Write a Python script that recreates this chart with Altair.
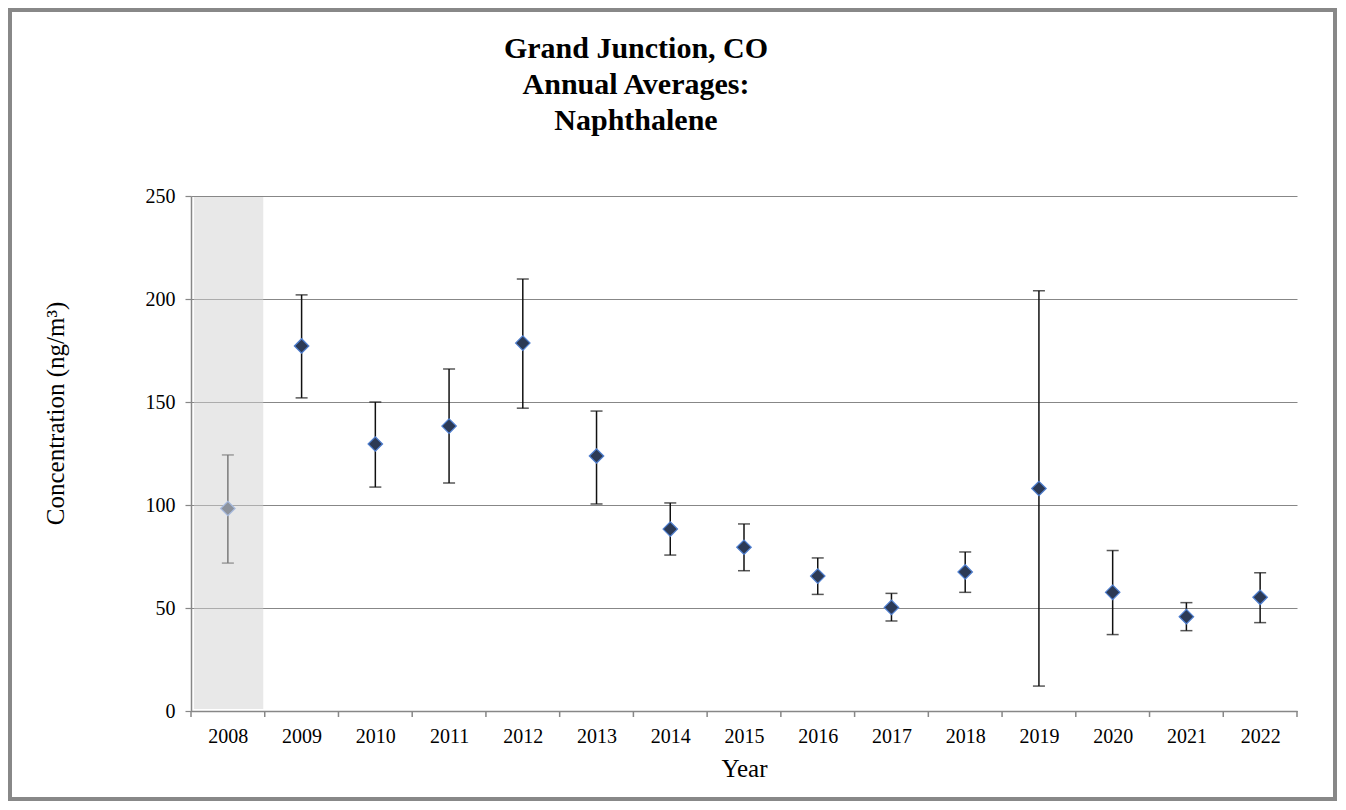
import altair as alt
import pandas as pd

# ---- data ----
years = [2008, 2009, 2010, 2011, 2012, 2013, 2014, 2015, 2016, 2017, 2018, 2019, 2020, 2021, 2022]
means = [98.3, 177.2, 129.6, 138.3, 178.6, 123.8, 88.3, 79.5, 65.5, 50.3, 67.5, 108.0, 57.6, 45.8, 55.2]
upper = [124.3, 202.0, 150.0, 166.0, 209.7, 145.6, 101.0, 90.8, 74.3, 57.1, 77.2, 204.0, 77.9, 52.6, 67.1]
lower = [71.8, 152.0, 108.7, 110.7, 147.0, 100.5, 75.7, 68.1, 56.6, 43.7, 57.6, 12.1, 37.1, 39.0, 42.9]
y_ticks = [0, 50, 100, 150, 200, 250]
shaded_years = [2008]
title_lines = ["Grand Junction, CO", "Annual Averages:", "Naphthalene"]
x_title = "Year"
y_title = "Concentration (ng/m³)"

df = pd.DataFrame({"year": years, "mean": means, "hi": upper, "lo": lower})
bounds = pd.DataFrame({"b": [y - 0.5 for y in years] + [years[-1] + 0.5]})
shade = pd.DataFrame({"year": shaded_years})

W, H = 1106, 515
FONT = "Liberation Serif"
GRAY = "#878787"

xscale = alt.Scale(domain=[years[0] - 0.5, years[-1] + 0.5], nice=False, zero=False)
yscale = alt.Scale(domain=[y_ticks[0], y_ticks[-1]], nice=False, zero=True)

xaxis = alt.Axis(values=years, format="d", ticks=False, tickSize=0, grid=False,
                 labelPadding=15, labelFont=FONT, labelFontSize=20, labelColor="#000",
                 domainColor=GRAY, domainWidth=1.5, title=x_title,
                 titleFont=FONT, titleFontSize=25, titleFontWeight="normal", titleColor="#000",
                 titleX=W / 2, titleY=57, titleBaseline="middle", titleAlign="center")
yaxis = alt.Axis(values=y_ticks, tickSize=6, tickColor=GRAY, tickWidth=1.2,
                 domainColor=GRAY, domainWidth=1.5, grid=True, gridColor=GRAY, gridWidth=1.2,
                 labelPadding=10, labelFont=FONT, labelFontSize=20, labelColor="#000",
                 title=y_title, titleFont=FONT, titleFontSize=25, titleFontWeight="normal",
                 titleColor="#000", titleAngle=270, titleX=-136, titleY=217,
                 titleAlign="center", titleBaseline="middle")

X = lambda f: alt.X(f, scale=xscale, axis=xaxis, title=x_title)
Y = lambda f: alt.Y(f, scale=yscale, axis=yaxis, title=y_title)

is08 = alt.datum.year == 2008

band = alt.Chart(shade).transform_calculate(
    x0="datum.year - 0.46", x1="datum.year + 0.48"
).mark_rect(color="#d1d1d1", opacity=0.5).encode(
    x=X("x0:Q"), x2="x1:Q", y=alt.value(1), y2=alt.value(H - 2)
)

xticks = alt.Chart(bounds).mark_rule(color=GRAY, strokeWidth=1.5).encode(
    x=X("b:Q"), y=alt.value(H), y2=alt.value(H + 6)
)

base = alt.Chart(df)
err = base.mark_rule(strokeWidth=1.5).encode(
    x=X("year:Q"), y=Y("lo:Q"), y2="hi:Q",
    color=alt.condition(is08, alt.value("#7a7a7a"), alt.value("#111111"))
)
cap_lo = base.mark_tick(orient="horizontal", size=12, thickness=1.5).encode(
    x=X("year:Q"), y=Y("lo:Q"),
    color=alt.condition(is08, alt.value("#7a7a7a"), alt.value("#111111"))
)
cap_hi = base.mark_tick(orient="horizontal", size=12, thickness=1.5).encode(
    x=X("year:Q"), y=Y("hi:Q"),
    color=alt.condition(is08, alt.value("#7a7a7a"), alt.value("#111111"))
)
pts = base.mark_point(shape="diamond", filled=True, size=210, strokeWidth=1.2, opacity=1).encode(
    x=X("year:Q"), y=Y("mean:Q"),
    fill=alt.condition(is08, alt.value("#8c929c"), alt.value("#2c3a55")),
    stroke=alt.condition(is08, alt.value("#a9bce0"), alt.value("#4f7fd0"))
)

title = alt.Chart(pd.DataFrame({"t": ["\n".join(title_lines)]})).mark_text(
    font=FONT, fontSize=30, fontWeight="bold", color="#000", align="center",
    baseline="top", lineBreak="\n", lineHeight=36
).encode(text="t:N", x=alt.value(445), y=alt.value(-162))

frame = alt.Chart(pd.DataFrame({"k": [0]})).mark_rect(
    fillOpacity=0, stroke="#888888", strokeWidth=4
).encode(x=alt.value(-181), x2=alt.value(1144), y=alt.value(-186), y2=alt.value(603))

chart = alt.layer(band, xticks, err, cap_lo, cap_hi, pts, title, frame).properties(
    width=W, height=H, padding=0, background="white"
).configure_view(strokeWidth=0)

chart.save("out.html", embed_options={"renderer": "svg", "actions": False})
